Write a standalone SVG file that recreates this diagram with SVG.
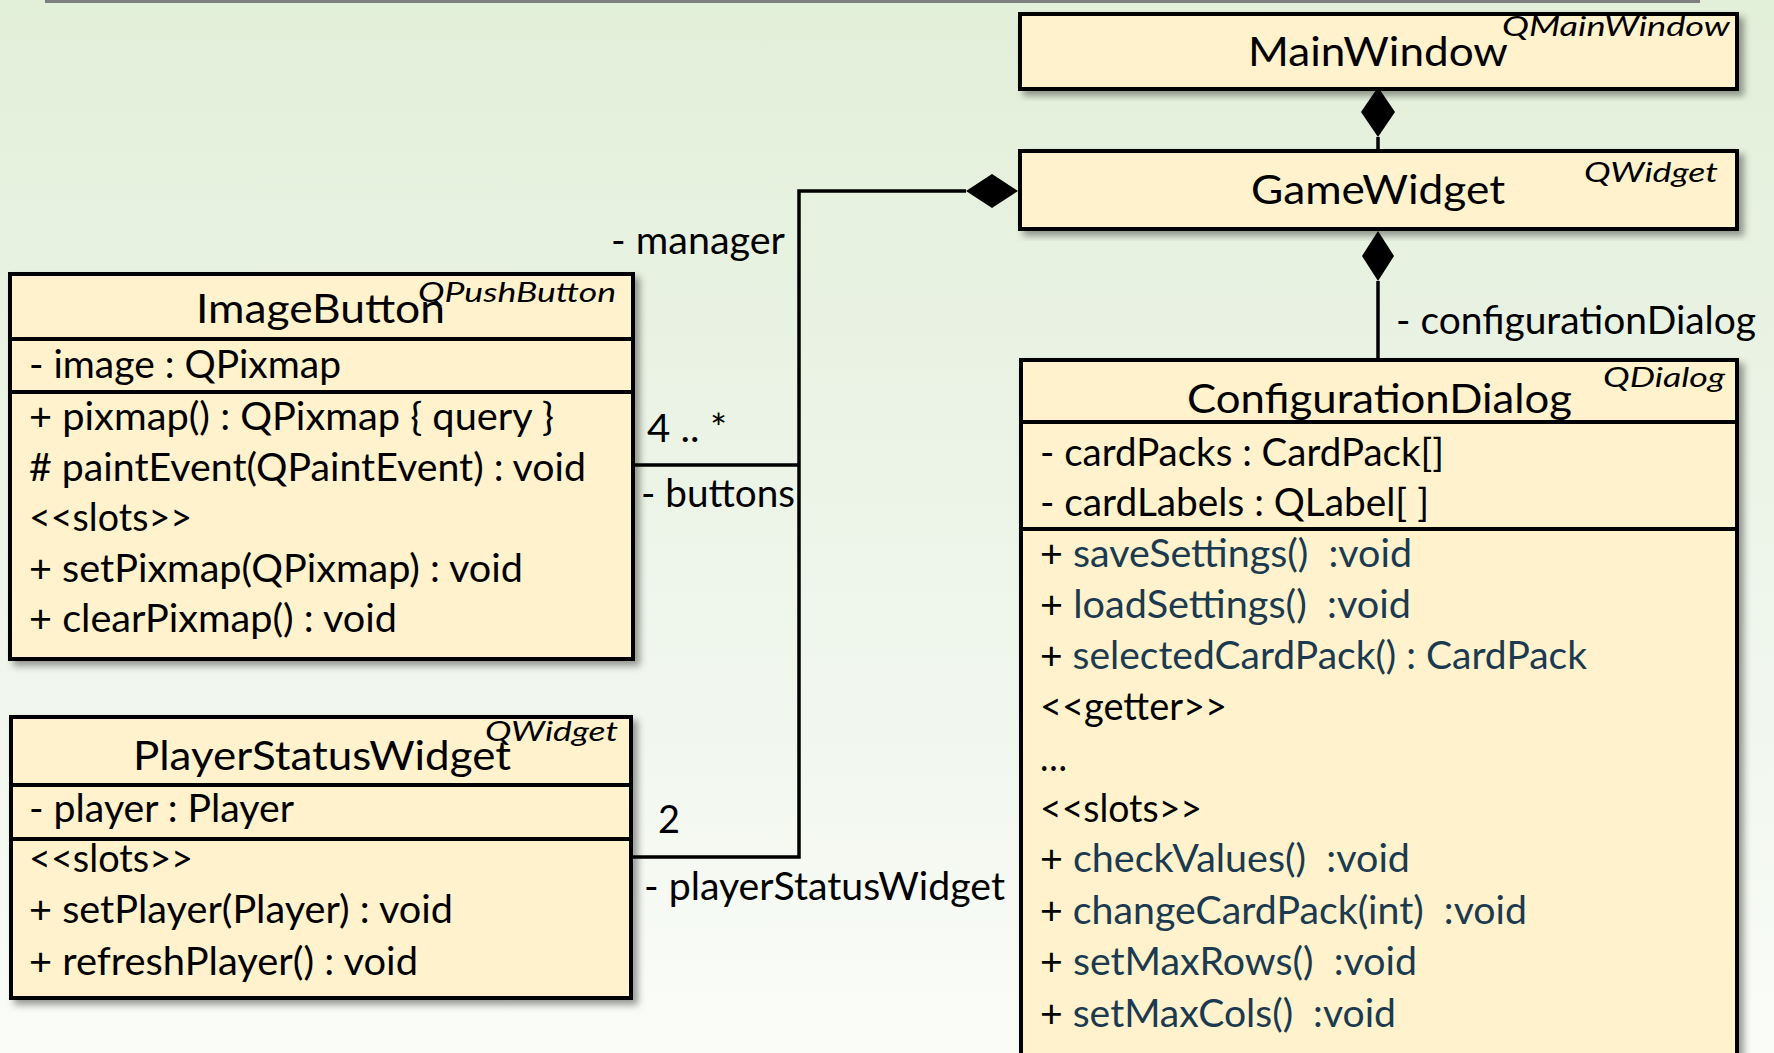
<svg xmlns="http://www.w3.org/2000/svg" width="1774" height="1053" viewBox="0 0 1774 1053">
  <defs>
    <linearGradient id="bg" x1="0" y1="0" x2="0" y2="1">
      <stop offset="0" stop-color="#E2EFD9"/>
      <stop offset="0.55" stop-color="#EEF5EA"/>
      <stop offset="1" stop-color="#FAFCF8"/>
    </linearGradient>
    <filter id="shadow" x="-5%" y="-5%" width="115%" height="120%">
      <feDropShadow dx="5" dy="5" stdDeviation="3.5" flood-color="#000" flood-opacity="0.38"/>
    </filter>
    <style>
      text { font-family: Lato, "Liberation Sans", sans-serif; fill: #000; white-space: pre; }
      .box { fill: #FFF2CC; stroke: #000; stroke-width: 4; filter: url(#shadow); }
      .div { stroke: #000; stroke-width: 4; }
      .title { font-size: 41px; }
      .stereo { font-size: 27px; font-style: italic; }
      .mem { font-size: 38px; }
      .lbl { font-size: 38px; }
      .op { fill: #1B3A4F; }
      .line { fill: none; stroke: #000; stroke-width: 3.5; }
      .dia { fill: #000; }
    </style>
  </defs>

  <!-- slide background -->
  <rect x="0" y="0" width="1774" height="1053" fill="url(#bg)"/>
  <line x1="45" y1="1.5" x2="1700" y2="1.5" stroke="#7F7F7F" stroke-width="3"/>

  <!-- associations and compositions -->
  <g id="connectors">
    <path class="line" d="M966,191 H799 V857 H631"/>
    <path class="line" d="M633,465 H799"/>
    <path class="line" d="M1378,137 V151"/>
    <path class="line" d="M1378,281 V360"/>
    <polygon class="dia" points="1378,87 1395,112 1378,137 1361,112"/>
    <polygon class="dia" points="1378,231 1394,256 1378,281 1362,256"/>
    <polygon class="dia" points="1018,191 992,208 966,191 992,174"/>
    <text class="lbl" x="611" y="254" textLength="174" lengthAdjust="spacingAndGlyphs">- manager</text>
    <text class="lbl" x="647" y="442" textLength="80" lengthAdjust="spacingAndGlyphs">4 .. *</text>
    <text class="lbl" x="641" y="507" textLength="154" lengthAdjust="spacingAndGlyphs">- buttons</text>
    <text class="lbl" x="658" y="833" textLength="22" lengthAdjust="spacingAndGlyphs">2</text>
    <text class="lbl" x="644" y="900" textLength="361" lengthAdjust="spacingAndGlyphs">- playerStatusWidget</text>
    <text class="lbl" x="1396" y="334" textLength="360" lengthAdjust="spacingAndGlyphs">- configurationDialog</text>
  </g>

  <!-- MainWindow -->
  <g id="mainwindow">
    <rect class="box" x="1020" y="14" width="717" height="75"/>
    <text class="title" x="1248" y="66" textLength="260" lengthAdjust="spacingAndGlyphs">MainWindow</text>
    <text class="stereo" x="1502" y="36" textLength="228" lengthAdjust="spacingAndGlyphs">QMainWindow</text>
  </g>

  <!-- GameWidget -->
  <g id="gamewidget">
    <rect class="box" x="1020" y="151" width="717" height="78"/>
    <text class="title" x="1251" y="204" textLength="254" lengthAdjust="spacingAndGlyphs">GameWidget</text>
    <text class="stereo" x="1584" y="182" textLength="134" lengthAdjust="spacingAndGlyphs">QWidget</text>
  </g>

  <!-- ImageButton -->
  <g id="imagebutton">
    <rect class="box" x="10" y="274" width="623" height="385"/>
    <line class="div" x1="10" y1="339" x2="633" y2="339"/>
    <line class="div" x1="10" y1="392" x2="633" y2="392"/>
    <text class="title" x="196" y="323" textLength="249" lengthAdjust="spacingAndGlyphs">ImageButton</text>
    <text class="stereo" x="418" y="302" textLength="198" lengthAdjust="spacingAndGlyphs">QPushButton</text>
    <text class="mem" x="29" y="378" textLength="312" lengthAdjust="spacingAndGlyphs">- image : QPixmap</text>
    <text class="mem" x="29" y="430" textLength="525" lengthAdjust="spacingAndGlyphs">+ pixmap() : QPixmap { query }</text>
    <text class="mem" x="29" y="481" textLength="557" lengthAdjust="spacingAndGlyphs"># paintEvent(QPaintEvent) : void</text>
    <text class="mem" x="29" y="531" textLength="163" lengthAdjust="spacingAndGlyphs">&lt;&lt;slots&gt;&gt;</text>
    <text class="mem" x="29" y="582" textLength="494" lengthAdjust="spacingAndGlyphs">+ setPixmap(QPixmap) : void</text>
    <text class="mem" x="29" y="632" textLength="368" lengthAdjust="spacingAndGlyphs">+ clearPixmap() : void</text>
  </g>

  <!-- PlayerStatusWidget -->
  <g id="playerstatuswidget">
    <rect class="box" x="11" y="717" width="620" height="281"/>
    <line class="div" x1="11" y1="785" x2="631" y2="785"/>
    <line class="div" x1="11" y1="839" x2="631" y2="839"/>
    <text class="title" x="133" y="770" textLength="378" lengthAdjust="spacingAndGlyphs">PlayerStatusWidget</text>
    <text class="stereo" x="485" y="741" textLength="133" lengthAdjust="spacingAndGlyphs">QWidget</text>
    <text class="mem" x="29" y="822" textLength="265" lengthAdjust="spacingAndGlyphs">- player : Player</text>
    <text class="mem" x="29" y="872" textLength="164" lengthAdjust="spacingAndGlyphs">&lt;&lt;slots&gt;&gt;</text>
    <text class="mem" x="29" y="923" textLength="424" lengthAdjust="spacingAndGlyphs">+ setPlayer(Player) : void</text>
    <text class="mem" x="29" y="975" textLength="389" lengthAdjust="spacingAndGlyphs">+ refreshPlayer() : void</text>
  </g>

  <!-- ConfigurationDialog -->
  <g id="configurationdialog">
    <rect class="box" x="1021" y="360" width="716" height="720"/>
    <line class="div" x1="1021" y1="422" x2="1737" y2="422"/>
    <line class="div" x1="1021" y1="529" x2="1737" y2="529"/>
    <text class="title" x="1187" y="413" textLength="385" lengthAdjust="spacingAndGlyphs">ConfigurationDialog</text>
    <text class="stereo" x="1603" y="387" textLength="122" lengthAdjust="spacingAndGlyphs">QDialog</text>
    <text class="mem" x="1040" y="466" textLength="404" lengthAdjust="spacingAndGlyphs">- cardPacks : CardPack[]</text>
    <text class="mem" x="1040" y="516" textLength="389" lengthAdjust="spacingAndGlyphs">- cardLabels : QLabel[ ]</text>
    <text class="mem" x="1040" y="567" textLength="372" lengthAdjust="spacingAndGlyphs">+ <tspan class="op">saveSettings()  :void</tspan></text>
    <text class="mem" x="1040" y="618" textLength="371" lengthAdjust="spacingAndGlyphs">+ <tspan class="op">loadSettings()  :void</tspan></text>
    <text class="mem" x="1040" y="669" textLength="547" lengthAdjust="spacingAndGlyphs">+ <tspan class="op">selectedCardPack() : CardPack</tspan></text>
    <text class="mem" x="1040" y="720" textLength="187" lengthAdjust="spacingAndGlyphs">&lt;&lt;getter&gt;&gt;</text>
    <text class="mem" x="1040" y="771" textLength="27" lengthAdjust="spacingAndGlyphs">…</text>
    <text class="mem" x="1040" y="822" textLength="162" lengthAdjust="spacingAndGlyphs">&lt;&lt;slots&gt;&gt;</text>
    <text class="mem" x="1040" y="872" textLength="370" lengthAdjust="spacingAndGlyphs">+ <tspan class="op">checkValues()  :void</tspan></text>
    <text class="mem" x="1040" y="924" textLength="487" lengthAdjust="spacingAndGlyphs">+ <tspan class="op">changeCardPack(int)  :void</tspan></text>
    <text class="mem" x="1040" y="975" textLength="377" lengthAdjust="spacingAndGlyphs">+ <tspan class="op">setMaxRows()  :void</tspan></text>
    <text class="mem" x="1040" y="1027" textLength="356" lengthAdjust="spacingAndGlyphs">+ <tspan class="op">setMaxCols()  :void</tspan></text>
  </g>
</svg>
